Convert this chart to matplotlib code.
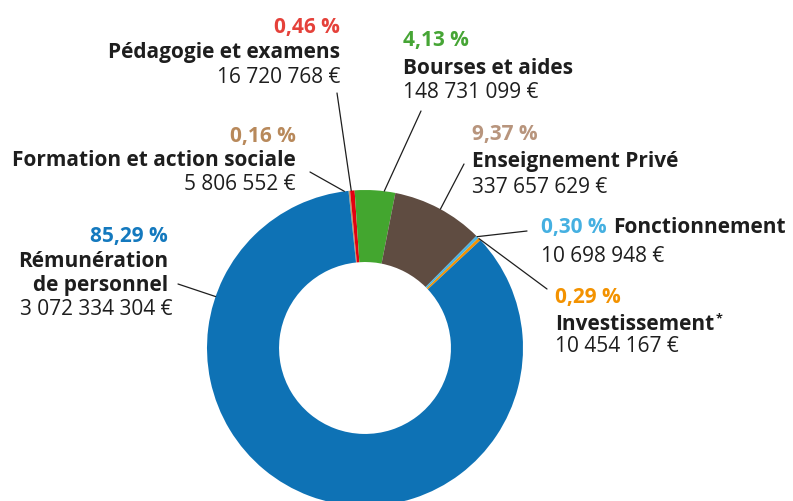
import matplotlib.pyplot as plt
import numpy as np

# slices in clockwise order starting just left of 12 o'clock
names = ['Formation et action sociale', 'Pédagogie et examens', 'Bourses et aides',
         'Enseignement Privé', 'Fonctionnement', 'Investissement', 'Rémunération\nde personnel']
pcts = [0.16, 0.46, 4.13, 9.37, 0.30, 0.29, 85.29]
amounts = ['5 806 552 €', '16 720 768 €', '148 731 099 €', '337 657 629 €',
           '10 698 948 €', '10 454 167 €', '3 072 334 304 €']
wedge_cols = ['#c39a6b', '#e3000f', '#43a62f', '#5f4c41', '#4ab3e2', '#f39200', '#0e72b5']
text_cols = ['#b8895b', '#e5413a', '#46a535', '#b8957d', '#45b0e1', '#f39200', '#1479be']

W, H = 793, 501
plt.rcParams['font.family'] = ['Open Sans', 'DejaVu Sans']

fig = plt.figure(figsize=(W / 100, H / 100), dpi=100)
cx, cy, R = 365, 348, 158
ax = fig.add_axes([(cx - R) / W, (H - cy - R) / H, 2 * R / W, 2 * R / H])
ax.pie(pcts, colors=wedge_cols, startangle=96, counterclock=False, radius=1,
       wedgeprops=dict(width=0.456, linewidth=0))
ax.set_xlim(-1, 1)
ax.set_ylim(-1, 1)
ax.set_aspect('equal')
ax.axis('off')

fs = 15


def pct_txt(p):
    return ('%.2f %%' % p).replace('.', ',')


def put(x, y, s, ha='left', bold=False, color='#1e1e1e', size=fs):
    return fig.text(x / W, 1 - y / H, s, ha=ha, va='baseline', fontsize=size,
                    fontweight='bold' if bold else 'normal', color=color)


# label blocks: (x, baselines of pct / name / amount, alignment)
blocks = [
    (296, [142, 166, 190], 'right'),
    (340, [33, 58, 83], 'right'),
    (403, [46, 74, 98], 'left'),
    (472, [140, 167, 193], 'left'),
    (541, [233, 233, 262], 'left'),
    (555, [303, 330, 352], 'left'),
    (168, [242, 267, 315], 'right'),
]

for i, (x, ys, ha) in enumerate(blocks):
    put(x, ys[0], pct_txt(pcts[i]), ha, True, text_cols[i])
    if names[i] == 'Fonctionnement':
        put(613, ys[1], names[i], ha, True)
        put(x, ys[2], amounts[i], ha)
        continue
    for k, line in enumerate(names[i].split('\n')):
        t = put(x, ys[1] + 24 * k, line, ha, True)
    if names[i] == 'Investissement':
        # superscript asterisk right after the word
        ax.annotate('*', xy=(1, 1), xycoords=t, xytext=(1, 1), textcoords='offset points',
                    fontsize=9, fontweight='bold', color='#1e1e1e', va='top', ha='left',
                    annotation_clip=False)
    put(x + (5 if ha == 'right' and '\n' in names[i] else 0), ys[2], amounts[i], ha)

# leader lines: start point (px) and angle on the ring where they touch
leaders = [((310, 172), 97.5), ((337, 93), 95.0), ((421, 111), 83.0),
           ((464, 164), 61.5), ((527, 231), 44.8), ((547, 289), 43.8), ((178, 284), 161.0)]
for (sx, sy), ang in leaders:
    a = np.deg2rad(ang)
    ax.annotate('', xy=(np.cos(a), np.sin(a)), xycoords='data',
                xytext=(sx, H - sy), textcoords='figure pixels',
                arrowprops=dict(arrowstyle='-', color='#1e1e1e', lw=0.9,
                                shrinkA=0, shrinkB=0), annotation_clip=False)

fig.savefig('out.png', dpi=100)
